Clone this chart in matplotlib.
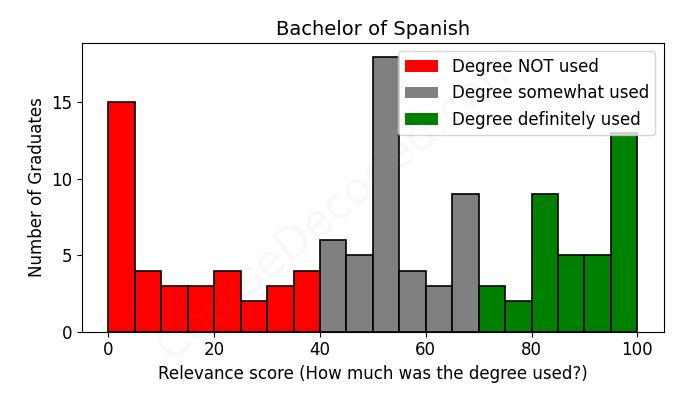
import matplotlib
matplotlib.use('Agg')
from matplotlib import pyplot as plt
from matplotlib.patches import Patch
from matplotlib.ticker import MultipleLocator

# histogram counts per 5-point bin of relevance score
bin_edges = list(range(0, 105, 5))
counts = [15, 4, 3, 3, 4, 2, 3, 4,
          6, 5, 18, 4, 3, 9,
          3, 2, 9, 5, 5, 13]
categories = ['Degree NOT used', 'Degree somewhat used', 'Degree definitely used']
cat_colors = ['red', 'gray', 'green']


def bin_color(left):
    if left < 40:
        return cat_colors[0]
    elif left < 70:
        return cat_colors[1]
    return cat_colors[2]


def main():
    fig, ax = plt.subplots(figsize=(6.78, 4.08), dpi=100)
    fig.subplots_adjust(left=0.121, right=0.979, top=0.895, bottom=0.187)

    lefts = bin_edges[:-1]
    widths = [bin_edges[i + 1] - bin_edges[i] for i in range(len(lefts))]
    colors = [bin_color(l) for l in lefts]
    ax.bar(lefts, counts, width=widths, align='edge', color=colors,
           edgecolor='black', linewidth=1.2)

    ax.set_title('Bachelor of Spanish', fontsize=14)
    ax.set_xlabel('Relevance score (How much was the degree used?)', fontsize=12)
    ax.set_ylabel('Number of Graduates', fontsize=12)
    ax.yaxis.set_major_locator(MultipleLocator(5))
    ax.tick_params(labelsize=12)

    handles = [Patch(facecolor=c, label=n) for n, c in zip(categories, cat_colors)]
    ax.legend(handles=handles, loc='upper right', fontsize=12)

    fig.text(0.5, 0.5, 'CourseDecoded.com', fontsize=32, color='gray',
             alpha=0.06, rotation=40, ha='center', va='center')

    fig.savefig('out.png')


if __name__ == '__main__':
    main()
